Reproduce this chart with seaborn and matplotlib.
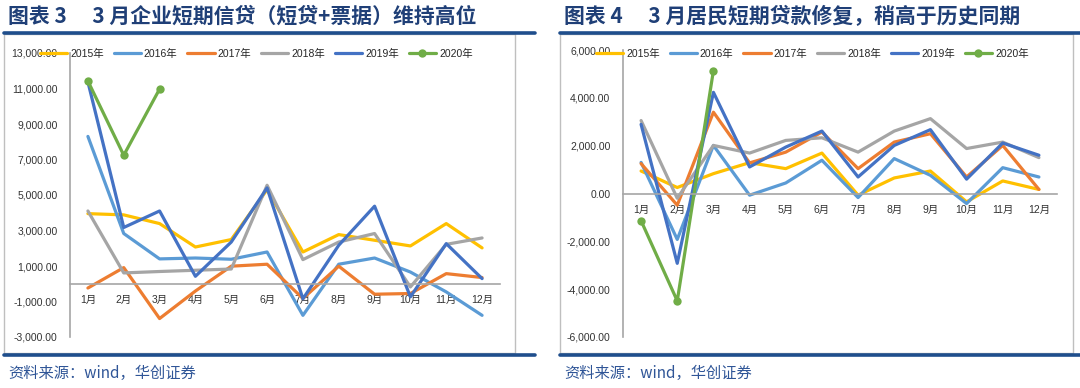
import numpy as np
import pandas as pd
import seaborn as sns
from matplotlib import pyplot as plt
from matplotlib.patches import Rectangle
from matplotlib.lines import Line2D

# 数据
months = [f"{i}月" for i in range(1, 13)]
years = ["2015年", "2016年", "2017年", "2018年", "2019年", "2020年"]
colors = ["#FFC000", "#5B9BD5", "#ED7D31", "#A5A5A5", "#4472C4", "#70AD47"]

# 图表3 企业短期信贷
corp_2015 = [3950, 3880, 3390, 2070, 2490, 5300, 1790, 2770, 2450, 2130, 3390, 2020]
corp_2016 = [8300, 2830, 1400, 1450, 1380, 1790, -1780, 1100, 1450, 660, -460, -1780]
corp_2017 = [-240, 910, -1960, -410, 990, 1100, -830, 990, -590, -550, 570, 350]
corp_2018 = [4100, 610, 690, 760, 830, 5550, 1360, 2350, 2830, -180, 2220, 2580]
corp_2019 = [11370, 3170, 4100, 420, 2350, 5400, -850, 2170, 4370, -740, 2260, 290]
corp_2020 = [11420, 7240, 10970]

# 图表4 居民短期贷款
hh_2015 = [940, 250, 830, 1290, 1040, 1690, -70, 650, 940, -350, 525, 170]
hh_2016 = [1300, -1920, 2010, -70, 440, 1390, -170, 1460, 760, -420, 1080, 690]
hh_2017 = [1250, -490, 3400, 1280, 1730, 2570, 1040, 2150, 2500, 690, 2010, 170]
hh_2018 = [3050, -200, 2010, 1690, 2220, 2330, 1730, 2610, 3130, 1880, 2150, 1500]
hh_2019 = [2890, -2920, 4230, 1110, 1940, 2610, 690, 2010, 2670, 600, 2110, 1600]
hh_2020 = [-1140, -4490, 5140]

corp_ticks = list(range(-3000, 13001, 2000))
hh_ticks = list(range(-6000, 6001, 2000))


def to_long(series):
    rows = []
    for year, vals in zip(years, series):
        for i, v in enumerate(vals):
            rows.append({"year": year, "pos": i, "value": v})
    return pd.DataFrame(rows)


corp_df = to_long([corp_2015, corp_2016, corp_2017, corp_2018, corp_2019, corp_2020])
hh_df = to_long([hh_2015, hh_2016, hh_2017, hh_2018, hh_2019, hh_2020])

sns.set_style("white")
plt.rcParams["font.family"] = ["Liberation Sans", "Noto Sans CJK SC", "DejaVu Sans"]

W, H = 1080, 388
fig = plt.figure(figsize=(W / 100, H / 100), dpi=100)

RULE = "#1F4E8C"
AXIS = "#A6A6A6"
TEXT = "#333333"


def fx(px):
    return px / W


def fy(py):
    return 1 - py / H


def panel(df, ticks, title, box, rule, plot_px, legend_xy):
    # 外框
    bx0, by0, bx1, by1 = box
    fig.add_artist(Rectangle((fx(bx0), fy(by1)), fx(bx1 - bx0), (by1 - by0) / H,
                             transform=fig.transFigure, fill=False,
                             edgecolor="#BFBFBF", lw=1))
    # 蓝色横线
    rx0, rx1 = rule
    for yy in (33, 355):
        fig.add_artist(Line2D([fx(rx0), fx(rx1)], [fy(yy), fy(yy)],
                              transform=fig.transFigure, color=RULE, lw=2.6))
    fig.text(fx(bx0 + 4), fy(16), title, fontsize=15, fontweight="bold",
             color="#1F3F77", va="center", ha="left",
             family=["Noto Sans CJK SC", "DejaVu Sans"])
    fig.text(fx(bx0 + 4), fy(373), "资料来源：wind，华创证券", fontsize=11,
             color="#2F5597", va="center", ha="left",
             family=["Noto Sans CJK SC", "DejaVu Sans"])

    px0, py0, px1, py1 = plot_px
    ax = fig.add_axes([fx(px0), fy(py1), fx(px1 - px0), (py1 - py0) / H])
    ax.patch.set_alpha(0)
    for year, c in zip(years, colors):
        sub = df[df["year"] == year]
        sns.lineplot(data=sub, x="pos", y="value", color=c, lw=2.3,
                     marker="o" if year == "2020年" else None,
                     markersize=6, markeredgewidth=0, sort=False,
                     label=year, ax=ax)

    ax.set_xlim(-0.5, 11.5)
    ax.set_ylim(ticks[0], ticks[-1])
    ax.set_xlabel("")
    ax.set_ylabel("")
    for s in ("top", "right"):
        ax.spines[s].set_visible(False)
    ax.spines["bottom"].set_position(("data", 0))
    for s in ("left", "bottom"):
        ax.spines[s].set_color(AXIS)
        ax.spines[s].set_linewidth(1.2)

    ax.set_xticks(np.arange(-0.5, 12, 1))
    ax.set_xticklabels([])
    ax.set_xticks(range(12), minor=True)
    ax.set_xticklabels(months, minor=True, fontsize=7.5, color=TEXT)
    ax.tick_params(axis="x", which="major", length=4, color=AXIS, width=1,
                   direction="out")
    ax.tick_params(axis="x", which="minor", length=0, pad=8)

    ax.set_yticks(ticks)
    ax.set_yticklabels([f"{v:,.2f}" for v in ticks], fontsize=7.5, color=TEXT)
    ax.tick_params(axis="y", length=0, pad=9)

    handles, labels = ax.get_legend_handles_labels()
    ax.legend(handles, labels, ncol=6, frameon=False, loc="center left",
              bbox_to_anchor=(fx(legend_xy[0]), fy(legend_xy[1])),
              bbox_transform=fig.transFigure, fontsize=7.5,
              handlelength=2.6, handletextpad=0.3, columnspacing=0.95,
              borderpad=0, borderaxespad=0)
    return ax


panel(corp_df, corp_ticks, "图表 3　 3 月企业短期信贷（短贷+票据）维持高位",
      (4, 34, 515, 353), (4, 535), (70, 53, 500, 337), (40, 54))
panel(hh_df, hh_ticks, "图表 4　 3 月居民短期贷款修复，稍高于历史同期",
      (560, 34, 1073, 353), (560, 1080), (623, 50, 1057, 337), (596, 54))

fig.savefig("out.png", dpi=100)
